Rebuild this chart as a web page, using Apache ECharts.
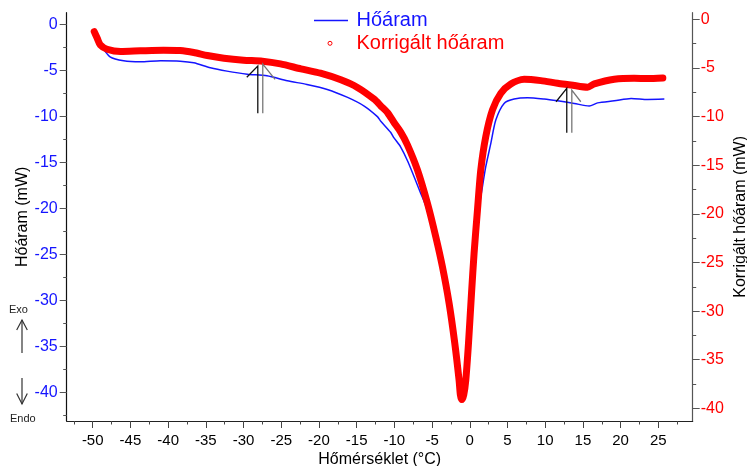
<!DOCTYPE html>
<html>
<head>
<meta charset="utf-8">
<script src="https://cdn.jsdelivr.net/npm/echarts@6/dist/echarts.min.js"></script>
<style>
  html, body { margin: 0; padding: 0; background: #fff; }
  #chart { width: 747px; height: 466px; }
</style>
</head>
<body>
<div id="chart"></div>
<script>
// DSC run: measured heat flow and corrected heat flow vs. temperature
const seriesNames = ['Hőáram', 'Korrigált hőáram'];

// Hőáram (mW) – left axis
const heatTemp = [-49.9, -49.4, -48.8, -47.7, -45.9, -43.7, -41.0, -38.4, -36.6, -34.4,
  -32.2, -29.5, -26.9, -24.2, -21.6, -18.9, -16.2, -14.0, -12.25, -11.8,
  -10.5, -10.05, -9.16, -8.2, -6.5, -5.75, -4.65, -3.76, -2.88, -2.12,
  -1.53, -1.06, -0.4, -0.04, 0.36, 0.7, 1.2, 1.68, 2.12, 2.79,
  3.45, 4.55, 5.88, 7.66, 9.86, 11.64, 13.85, 15.84, 16.95, 19.16,
  21.4, 23.6, 25.8];
const heatFlow = [-0.8, -1.7, -2.41, -3.5, -3.93, -4.04, -3.93, -3.97, -4.15, -4.69,
  -5.05, -5.38, -5.56, -6.1, -6.5, -7.04, -7.91, -8.85, -10.0, -10.5,
  -11.7, -12.3, -13.3, -14.9, -18.34, -19.9, -23.3, -26.5, -30.4, -34.7,
  -38.6, -40.8, -38.6, -34.6, -29.2, -24.9, -20.15, -17.6, -15.44, -12.9,
  -10.37, -8.56, -8.09, -7.95, -8.09, -8.28, -8.56, -8.85, -8.5, -8.28,
  -8.02, -8.13, -8.09];

// Korrigált hőáram (mW) – right axis
const corrTemp = [-49.8, -49.4, -49.0, -48.1, -46.3, -43.7, -40.6, -38.4, -36.6, -34.8,
  -32.6, -30.0, -27.5, -25.1, -22.4, -19.8, -17.1, -14.9, -12.7, -11.8,
  -10.9, -10.05, -9.16, -8.27, -6.94, -5.62, -4.51, -3.63, -2.74, -1.99,
  -1.42, -1.25, -1.06, -0.8, -0.53, -0.17, 0.23, 0.57, 1.02, 1.46,
  2.12, 3.01, 4.12, 5.44, 7.21, 9.43, 11.64, 13.41, 15.62, 16.5,
  19.16, 21.8, 23.6, 25.6];
const corrFlow = [-1.26, -1.94, -2.62, -3.07, -3.31, -3.24, -3.17, -3.21, -3.41, -3.72,
  -4.0, -4.2, -4.3, -4.58, -5.09, -5.54, -6.22, -7.0, -8.2, -8.9,
  -9.6, -10.6, -11.6, -12.9, -15.48, -18.9, -22.35, -25.43, -29.2, -33.3,
  -37.09, -38.6, -39.1, -38.6, -37.09, -33.3, -28.17, -24.05, -19.6, -15.48,
  -12.06, -9.31, -7.6, -6.64, -6.16, -6.3, -6.57, -6.74, -6.98, -6.64,
  -6.16, -6.05, -6.09, -6.02];

// Event markers (°C, right-axis mW): stem bottom, stem top, head end
const markerDark = [
  [[-28.11, -9.66], [-28.11, -4.8], [-29.57, -5.96]],
  [[12.86, -11.66], [12.86, -7.09], [11.44, -8.47]]
];
const markerLight = [
  [[-27.45, -9.66], [-27.45, -4.59], [-25.82, -6.17]],
  [[13.53, -11.66], [13.53, -7.27], [14.72, -8.47]]
];

// Tick values
const xMajor = [-50, -45, -40, -35, -30, -25, -20, -15, -10, -5, 0, 5, 10, 15, 20, 25];
const xMinor = [-52.5, -47.5, -42.5, -37.5, -32.5, -27.5, -22.5, -17.5, -12.5, -7.5, -2.5, 2.5, 7.5, 12.5, 17.5, 22.5, 27.5];
const leftMajor = [0, -5, -10, -15, -20, -25, -30, -35, -40];
const leftMinor = [-2.5, -7.5, -12.5, -17.5, -22.5, -27.5, -32.5, -37.5, -42.5];
const rightMajor = [0, -5, -10, -15, -20, -25, -30, -35, -40];
const rightMinor = [-2.5, -7.5, -12.5, -17.5, -22.5, -27.5, -32.5, -37.5];

const X_MIN = -53.45, X_MAX = 29.56;
const L_MIN = -43.08, L_MAX = 1.30;
const R_MIN = -41.30, R_MAX = 0.685;

const FONT = "'Liberation Sans', Arial, sans-serif";
const BLUE = '#1414ff';
const RED = '#ff0000';

const pairs = (xs, ys) => xs.map((x, i) => [x, ys[i]]);

function valueAxisBase(min, max) {
  return { type: 'value', min: min, max: max, splitLine: { show: false }, axisLine: { onZero: false } };
}

const option = {
  animation: false,
  backgroundColor: '#fff',
  grid: { left: 66.7, right: 54.3, top: 12.7, bottom: 45, containLabel: false, outerBoundsMode: 'none' },
  xAxis: [
    Object.assign(valueAxisBase(X_MIN, X_MAX), {
      position: 'bottom',
      name: 'Hőmérséklet (°C)', nameLocation: 'middle', nameGap: 31, nameMoveOverlap: false,
      nameTextStyle: { color: '#000', fontSize: 16, fontFamily: FONT },
      axisLine: { onZero: false, lineStyle: { color: '#222', width: 1.2 } },
      axisTick: { customValues: xMajor, length: 7, lineStyle: { color: '#444' } },
      axisLabel: { customValues: xMajor, margin: 12, color: '#000', fontSize: 15, fontFamily: FONT }
    }),
    Object.assign(valueAxisBase(X_MIN, X_MAX), {
      position: 'bottom',
      axisLine: { show: false, onZero: false },
      axisTick: { customValues: xMinor, length: 3.5, lineStyle: { color: '#444' } },
      axisLabel: { show: false }
    })
  ],
  yAxis: [
    Object.assign(valueAxisBase(L_MIN, L_MAX), {
      position: 'left',
      name: 'Hőáram (mW)', nameLocation: 'middle', nameGap: 36, nameMoveOverlap: false,
      nameTextStyle: { color: '#000', fontSize: 16, fontFamily: FONT },
      axisLine: { show: true, onZero: false, lineStyle: { color: '#111', width: 1.2 } },
      axisTick: { customValues: leftMajor, length: 7, lineStyle: { color: '#555' } },
      axisLabel: { customValues: leftMajor, margin: 9, color: BLUE, fontSize: 16, fontFamily: FONT }
    }),
    Object.assign(valueAxisBase(R_MIN, R_MAX), {
      position: 'right',
      name: 'Korrigált hőáram (mW)', nameLocation: 'middle', nameGap: 40, nameMoveOverlap: false,
      nameTextStyle: { color: '#000', fontSize: 16, fontFamily: FONT },
      axisLine: { show: true, onZero: false, lineStyle: { color: '#555', width: 1.2 } },
      axisTick: { customValues: rightMajor, length: 7, lineStyle: { color: '#555' } },
      axisLabel: { customValues: rightMajor, margin: 8, color: RED, fontSize: 16, fontFamily: FONT }
    }),
    Object.assign(valueAxisBase(L_MIN, L_MAX), {
      position: 'left',
      axisLine: { show: false, onZero: false },
      axisTick: { customValues: leftMinor, length: 3.5, lineStyle: { color: '#555' } },
      axisLabel: { show: false }
    }),
    Object.assign(valueAxisBase(R_MIN, R_MAX), {
      position: 'right',
      axisLine: { show: false, onZero: false },
      axisTick: { customValues: rightMinor, length: 3.5, lineStyle: { color: '#555' } },
      axisLabel: { show: false }
    })
  ],
  series: [
    {
      name: seriesNames[0], type: 'line', xAxisIndex: 0, yAxisIndex: 0,
      data: pairs(heatTemp, heatFlow),
      symbol: 'none', smooth: 0.25, z: 2,
      itemStyle: { color: BLUE },
      lineStyle: { color: BLUE, width: 1.5 }
    },
    {
      name: seriesNames[1], type: 'line', xAxisIndex: 0, yAxisIndex: 1,
      data: pairs(corrTemp, corrFlow),
      symbol: 'none', smooth: 0.25, z: 3,
      itemStyle: { color: RED },
      lineStyle: { color: RED, width: 7, cap: 'round', join: 'round' }
    },
    {
      type: 'lines', coordinateSystem: 'cartesian2d', xAxisIndex: 0, yAxisIndex: 1,
      polyline: true, z: 4, silent: true,
      data: markerDark.map(c => ({ coords: c })),
      lineStyle: { color: '#111', width: 1.3, opacity: 1 }
    },
    {
      type: 'lines', coordinateSystem: 'cartesian2d', xAxisIndex: 0, yAxisIndex: 1,
      polyline: true, z: 4, silent: true,
      data: markerLight.map(c => ({ coords: c })),
      lineStyle: { color: '#777', width: 1.3, opacity: 1 }
    }
  ],
  graphic: [
    // legend
    { type: 'line', shape: { x1: 314, y1: 20.5, x2: 348, y2: 20.5 }, style: { stroke: BLUE, lineWidth: 1.5 } },
    { type: 'text', x: 356.5, y: 20.5, style: { text: seriesNames[0], fontSize: 20, fontFamily: FONT, fill: BLUE, verticalAlign: 'middle' } },
    { type: 'circle', shape: { cx: 330, cy: 43.3, r: 2 }, style: { stroke: RED, fill: '#fff', lineWidth: 1 } },
    { type: 'text', x: 356.5, y: 43, style: { text: seriesNames[1], fontSize: 20, fontFamily: FONT, fill: RED, verticalAlign: 'middle' } },
    // Exo / Endo direction hint
    { type: 'text', left: 9, top: 304, style: { text: 'Exo', fontSize: 11, fontFamily: FONT, fill: '#222' } },
    { type: 'polyline', shape: { points: [[22, 353], [22, 320]] }, style: { stroke: '#333', lineWidth: 1.2 } },
    { type: 'polyline', shape: { points: [[16.7, 330], [22, 320], [27.3, 330]] }, style: { stroke: '#333', lineWidth: 1.2, fill: null } },
    { type: 'polyline', shape: { points: [[22, 378], [22, 404]] }, style: { stroke: '#333', lineWidth: 1.2 } },
    { type: 'polyline', shape: { points: [[16.7, 393.5], [22, 404], [27.3, 393.5]] }, style: { stroke: '#333', lineWidth: 1.2, fill: null } },
    { type: 'text', left: 10, top: 413, style: { text: 'Endo', fontSize: 11, fontFamily: FONT, fill: '#222' } }
  ]
};

const chart = echarts.init(document.getElementById('chart'), null, { renderer: 'canvas' });
chart.setOption(option);
</script>
</body>
</html>
